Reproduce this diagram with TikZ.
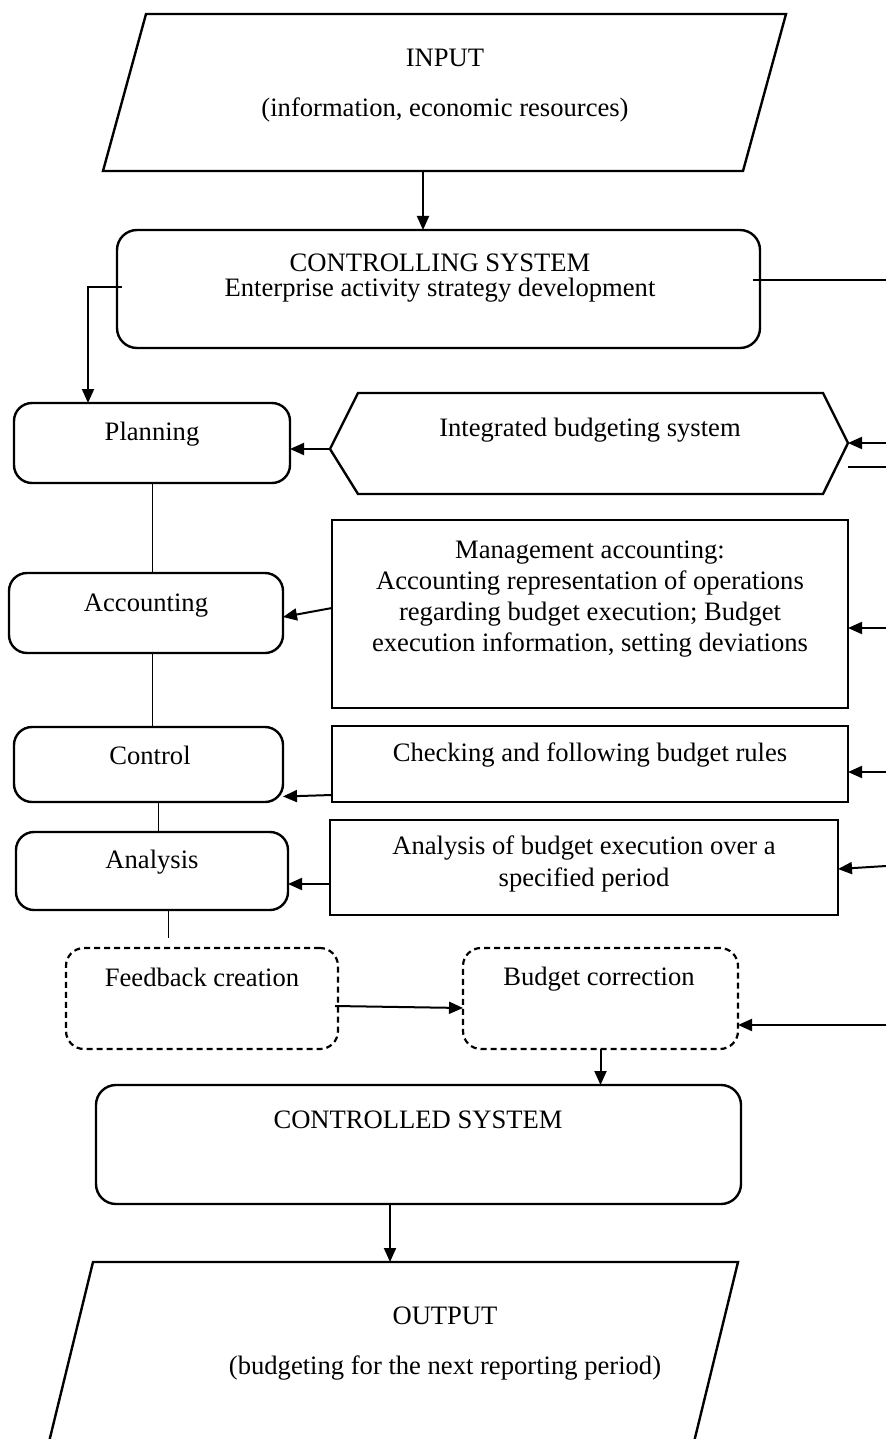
\documentclass[tikz,border=0pt]{standalone}
\usepackage{fontspec}
\setmainfont{Liberation Serif}
\usetikzlibrary{arrows.meta}
\begin{document}
\begin{tikzpicture}[x=0.5pt,y=-0.5pt,
  rbox/.style={draw, line width=1.2pt, rounded corners=9pt, inner sep=0pt, outer sep=0pt},
  sbox/.style={draw, line width=1.2pt, inner sep=0pt, outer sep=0pt},
  dbox/.style={draw, line width=1.1pt, dash pattern=on 3pt off 2pt, rounded corners=9pt, inner sep=0pt, outer sep=0pt},
  shp/.style={draw, line width=1.2pt, line join=miter},
  arr/.style={line width=1pt, -{Triangle[length=7pt,width=6pt]}},
  plain/.style={line width=1pt},
  thinline/.style={line width=0.5pt},
  txt/.style={font=\fontsize{13.3}{15.5}\selectfont, align=center, inner sep=0pt}
]
\useasboundingbox (0,0) rectangle (886,1439);

% INPUT parallelogram
\coordinate (inTL) at (146,14);
\coordinate (inTR) at (786,14);
\coordinate (inBR) at (743,171);
\coordinate (inBL) at (103,171);
\draw[shp] (inTL) -- (inTR) -- (inBR) -- (inBL) -- cycle;
\node[txt] (inT1) at (445,58) {INPUT};
\node[txt] (inT2) at (445,110) {(information, economic resources)};
\coordinate (inOut) at (423,171);

% Controlling system
\node[rbox, rounded corners=10pt, minimum width=321.5pt, minimum height=59pt] (ctrl) at (438.5,289) {};
\node[txt] (ctrlT1) at (440,263) {CONTROLLING SYSTEM};
\node[txt] (ctrlT2) at (440,290) {Enterprise activity strategy development};

% left column
\node[rbox, minimum width=138pt, minimum height=40pt] (plan) at (152,443) {};
\node[txt] (planT) at (152,434) {Planning};
\node[rbox, minimum width=137pt, minimum height=40pt] (acc) at (146,613) {};
\node[txt] (accT) at (146,606) {Accounting};
\node[rbox, minimum width=134.5pt, minimum height=37.5pt] (ctl) at (148.5,764.5) {};
\node[txt] (ctlT) at (150,755) {Control};
\node[rbox, minimum width=136pt, minimum height=39pt] (ana) at (152,871) {};
\node[txt] (anaT) at (152,862) {Analysis};

% hexagon
\coordinate (hexL) at (330,449);
\coordinate (hexR) at (848,443);
\draw[shp] (hexL) -- (358,393) -- (823,393) -- (hexR) -- (823,494) -- (358,494) -- cycle;
\node[txt] (hexT) at (590,430) {Integrated budgeting system};

% right column rectangles
\node[sbox, minimum width=258pt, minimum height=94pt] (mgmt) at (590,614) {};
\node[txt] (mgmtT) at (590,599) {Management accounting:\\Accounting representation of operations\\regarding budget execution; Budget\\execution information, setting deviations};
\node[sbox, minimum width=258pt, minimum height=38pt] (chk) at (590,764) {};
\node[txt] (chkT) at (590,755) {Checking and following budget rules};
\node[sbox, minimum width=254pt, minimum height=47.5pt] (anr) at (584,867.5) {};
\node[txt, font=\fontsize{13.3}{16}\selectfont] (anrT) at (584,864) {Analysis of budget execution over a\\specified period};

% dashed boxes
\node[dbox, minimum width=136pt, minimum height=50.5pt] (fb) at (202,998.5) {};
\node[txt] (fbT) at (202,977) {Feedback creation};
\node[dbox, minimum width=137.5pt, minimum height=50.5pt] (bc) at (600.5,998.5) {};
\node[txt] (bcT) at (599,979) {Budget correction};

% controlled system
\node[rbox, rounded corners=10pt, minimum width=322.5pt, minimum height=59.5pt] (cs) at (418.5,1144.5) {};
\node[txt] (csT) at (418,1120) {CONTROLLED SYSTEM};

% OUTPUT parallelogram
\coordinate (outTL) at (93,1262);
\coordinate (outTR) at (738,1262);
\coordinate (outBR) at (694,1442);
\coordinate (outBL) at (49,1442);
\draw[shp] (outBL) -- (outTL) -- (outTR) -- (outBR);
\node[txt] (outT1) at (445,1316) {OUTPUT};
\node[txt] (outT2) at (445,1368) {(budgeting for the next reporting period)};

% right-edge coordinates
\coordinate (e1) at (886,280);
\coordinate (e2) at (886,443);
\coordinate (e2b) at (886,467);
\coordinate (e3) at (886,628);
\coordinate (e4) at (886,772);
\coordinate (e5) at (886,866);
\coordinate (e6) at (886,1025);

% connectors
\draw[arr] (inOut) -- (inOut |- ctrl.north);
\draw[arr] ([xshift=2.5pt,yshift=1pt]ctrl.west) -| ([xshift=-32pt]plan.north);
\draw[plain] ([xshift=-3.5pt,yshift=4.5pt]ctrl.east) -- (e1);
\draw[arr] (hexL) -- (plan.east |- hexL);
\draw[arr] (e2) -- (hexR);
\draw[plain] ([yshift=-12pt]hexR) -- (e2b);
\draw[arr] ([yshift=3pt]mgmt.west) -- ([yshift=-2pt]acc.east);
\draw[arr] (e3) -- (mgmt.east |- e3);
\draw[arr] ([yshift=-15.5pt]chk.west) -- ([yshift=-16pt]ctl.east);
\draw[arr] (e4) -- (chk.east |- e4);
\draw[arr] ([yshift=-8.25pt]anr.west) -- ([yshift=-6.5pt]ana.east);
\draw[arr] (e5) -- ([yshift=-0.75pt]anr.east);
\draw[arr] ([xshift=-1.5pt,yshift=-3.75pt]fb.east) -- ([yshift=-4.75pt]bc.west);
\draw[arr] (e6) -- (bc.east |- e6);
\draw[arr] (bc.south) -- (bc.south |- cs.north);
\draw[arr] ([xshift=-14.25pt]cs.south) -- ([xshift=-14.25pt]cs.south |- outTL);

% thin vertical links
\draw[thinline] (plan.south) -- (plan.south |- acc.north);
\draw[thinline] (plan.south |- acc.south) -- (plan.south |- ctl.north);
\draw[thinline] ([xshift=4.75pt]ctl.south) -- ([xshift=4.75pt]ctl.south |- ana.north);
\draw[thinline] ([xshift=8pt]ana.south) -- ++(0,28);
\end{tikzpicture}
\end{document}
